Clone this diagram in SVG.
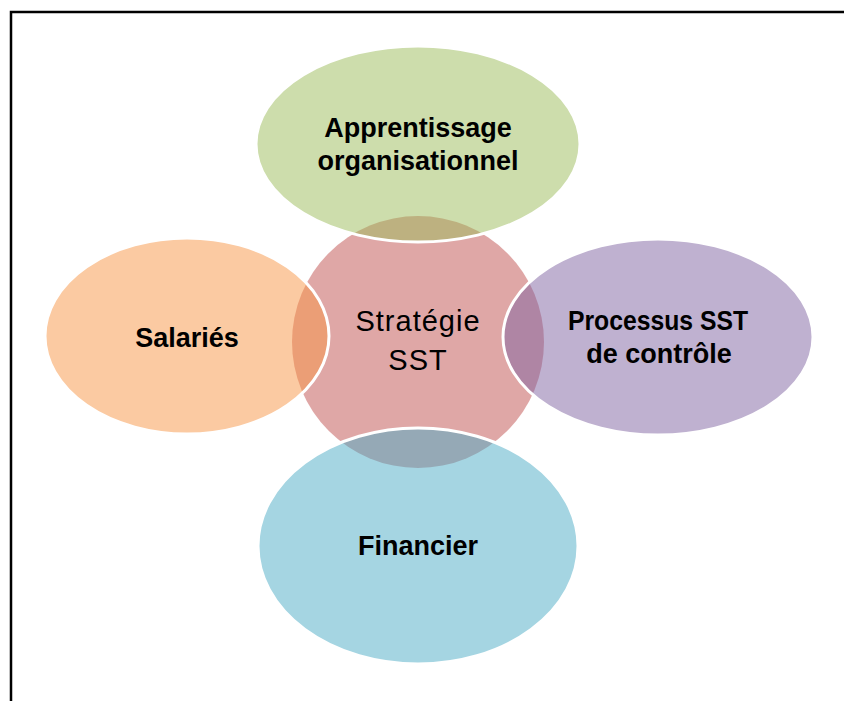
<svg xmlns="http://www.w3.org/2000/svg" width="844" height="701" viewBox="0 0 844 701">
  <style>
    .outer { fill-opacity: 0.5; stroke: #ffffff; stroke-width: 3; }
    .lbl { font-family: "Liberation Sans", Arial, sans-serif; font-weight: bold; font-size: 27px; fill: #000000; text-anchor: middle; }
    .ctr { font-family: "Liberation Sans", Arial, sans-serif; font-size: 29px; letter-spacing: 1px; fill: #000000; text-anchor: middle; }
    .frame { stroke: #000000; stroke-width: 2.5; fill: none; }
  </style>
  <rect x="0" y="0" width="844" height="701" fill="#ffffff"/>
  <path class="frame" d="M11 701 V12 H844"/>

  <g id="center">
    <circle cx="418" cy="342" r="126" fill="#C0504D" fill-opacity="0.5"/>
    <text class="ctr" x="418" y="331">Stratégie</text>
    <text class="ctr" x="418" y="370">SST</text>
  </g>

  <g id="apprentissage">
    <ellipse class="outer" cx="418" cy="144" rx="162" ry="98" fill="#9BBB59"/>
    <text class="lbl" x="418" y="137">Apprentissage</text>
    <text class="lbl" x="418" y="170">organisationnel</text>
  </g>

  <g id="salaries">
    <ellipse class="outer" cx="187" cy="336" rx="142" ry="98" fill="#F79646"/>
    <text class="lbl" x="187" y="347">Salariés</text>
  </g>

  <g id="processus">
    <ellipse class="outer" cx="658" cy="337" rx="155" ry="98" fill="#8064A2"/>
    <text class="lbl" x="658" y="330" textLength="180" lengthAdjust="spacingAndGlyphs">Processus SST</text>
    <text class="lbl" x="659" y="363">de contrôle</text>
  </g>

  <g id="financier">
    <ellipse class="outer" cx="418" cy="546" rx="160" ry="118" fill="#4BACC6"/>
    <text class="lbl" x="418" y="555">Financier</text>
  </g>

  <g id="connectors"/>
</svg>
